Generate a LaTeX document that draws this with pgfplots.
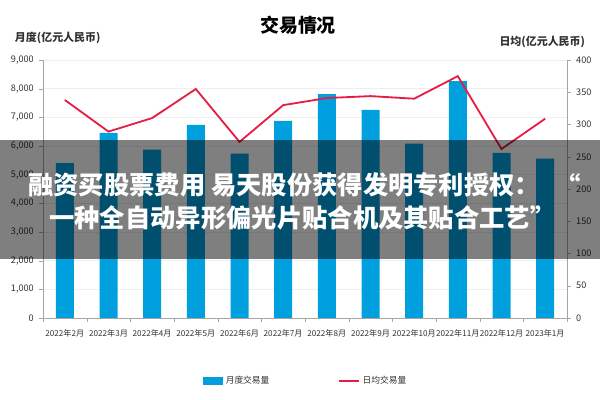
\documentclass[border=0pt]{standalone}
\usepackage{pgfplots}
\pgfplotsset{compat=1.18}
\usepackage{fontspec}
\setmainfont{Noto Sans CJK SC}
\definecolor{barblue}{RGB}{0,160,223}
\definecolor{linered}{RGB}{230,30,70}
\definecolor{axgray}{RGB}{165,165,165}
\definecolor{gridgray}{RGB}{238,238,238}
\definecolor{txtgray}{RGB}{50,50,50}

\begin{document}
\begin{tikzpicture}
\path[use as bounding box] (0,0) rectangle (15,10);
\pgfplotsset{
  base/.style={
    scale only axis, width=13.1cm, height=6.45cm,
    at={(1.075cm,2.05cm)}, anchor=south west,
    xmin=-0.5, xmax=11.5,
    axis line style={axgray},
    tick style={axgray},
    tick align=outside,
    major tick length=3pt,
    ticklabel style={font=\fontsize{6.5}{7}\selectfont, text=txtgray},
    /pgf/number format/assume math mode=true,
    /pgf/number format/1000 sep={,},
    scaled y ticks=false,
  }
}
\begin{axis}[base,
  ymin=0, ymax=9000, ytick={0,1000,...,9000},
  axis y line*=left, axis x line*=bottom,
  ymajorgrids, grid style={gridgray},
  xtick={0,...,11}, major x tick style={draw=none},
  minor xtick={-0.5,0.5,...,11.5},
  minor tick length=3pt,
  xticklabels={2022年2月,2022年3月,2022年4月,2022年5月,2022年6月,2022年7月,2022年8月,2022年9月,2022年10月,2022年11月,2022年12月,2023年1月},
  xticklabel style={font=\fontsize{5.8}{7}\selectfont, yshift=-2pt},
  legend style={at={(0.502,-0.245)}, anchor=center, draw=none,
    font=\fontsize{6.2}{8}\selectfont, text=txtgray, legend columns=2,
    /tikz/every even column/.append style={column sep=1.65cm}},
  legend cell align=left,
]
\addplot[ybar, bar width=0.45cm, fill=barblue, draw=none, area legend,
  legend image code/.code={\fill[barblue] (0cm,-0.1cm) rectangle (0.5cm,0.1cm);}]
  coordinates {(0,5400) (1,6460) (2,5870) (3,6740) (4,5730) (5,6880)
               (6,7810) (7,7260) (8,6080) (9,8260) (10,5760) (11,5560)};
\addlegendentry{月度交易量}
\addlegendimage{linered, line width=1.2pt,
  legend image code/.code={\draw[linered, line width=1.2pt] (0cm,0cm) -- (0.5cm,0cm);}}
\addlegendentry{日均交易量}
\end{axis}
\begin{axis}[base,
  ymin=0, ymax=400, ytick={0,50,...,400},
  axis y line*=right, axis x line=none,
]
\addplot[linered, line width=1.3pt, mark=none]
  coordinates {(0,338) (1,289) (2,310) (3,355) (4,273) (5,330)
               (6,341) (7,344) (8,340) (9,375) (10,262) (11,309)};
\end{axis}
\node[font=\bfseries\fontsize{13.5}{15}\selectfont, text=black] at (7.45,9.375) {交易情况};
\node[anchor=west, font=\bfseries\fontsize{7.8}{10}\selectfont, text=txtgray] at (0.25,9.05) {月度(亿元人民币)};
\node[anchor=east, font=\bfseries\fontsize{7.8}{10}\selectfont, text=txtgray] at (14.75,8.95) {日均(亿元人民币)};
\fill[black, opacity=0.5] (0,3.525) rectangle (15,6.5);
\node[anchor=west, inner sep=0pt, white, font=\bfseries\fontsize{18}{20}\selectfont] at (0.7,5.375) {融资买股票费用 易天股份获得发明专利授权：};
\node[inner sep=0pt, white, font=\bfseries\fontsize{18}{20}\selectfont] at (14.2,5.375) {“};
\node[white, font=\bfseries\fontsize{18}{20}\selectfont] at (7.56,4.55) {一种全自动异形偏光片贴合机及其贴合工艺”};
\end{tikzpicture}
\end{document}
